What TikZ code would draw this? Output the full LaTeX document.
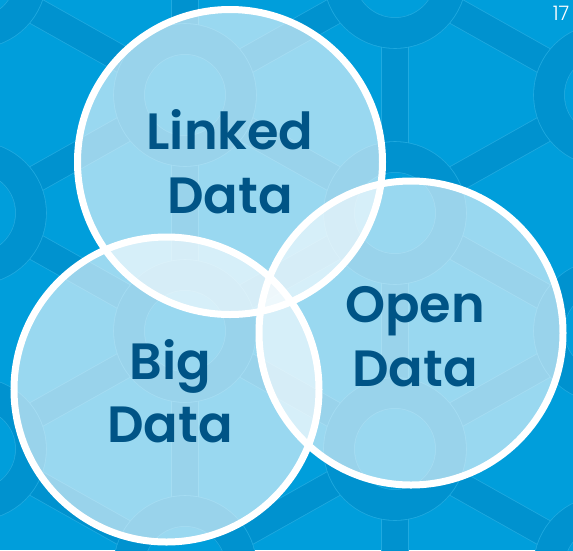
\documentclass[tikz,border=0pt]{standalone}
\usepackage{fontspec}
\usepackage{tikz}
\newfontfamily\vennfont{Poppins SemiBold}
\newfontfamily\pagefont{Poppins Light}
\definecolor{bgblue}{RGB}{0,158,219}
\definecolor{patblue}{RGB}{0,146,207}
\definecolor{lineblue}{RGB}{32,170,224}
\definecolor{textblue}{RGB}{0,84,134}

\begin{document}
\begin{tikzpicture}[x=1pt,y=-1pt,
    band/.style={draw=lineblue,line width=0.8pt,double=patblue,double distance=26pt},
    ring/.style={draw=lineblue,line width=0.8pt,double=patblue,double distance=30pt},
    vennfill/.style={fill=white,fill opacity=0.6},
    vennline/.style={draw=white,line width=7pt},
    vennlabel/.style={text=textblue,align=center,anchor=base,inner sep=0pt,
        font=\vennfont\fontsize{51}{63.5}\selectfont}]
            \useasboundingbox (0,0) rectangle (573,550);
            % background pattern
            \begin{scope}
            \clip (0,0) rectangle (573,550);
            \fill[bgblue] (0,0) rectangle (573,550);
            \foreach \m/\p in {-1/1,0/0,1/1,2/0}
              \foreach \k in {-1,...,3}{
                \pgfmathsetmacro{\px}{185+210*\m}
                \pgfmathsetmacro{\py}{95+118*(2*\k+\p)}
                \draw[band](\px,\py)--++(210,118);
                \draw[band](\px,\py)--++(210,-118);
                \draw[band](\px,\py)--++(0,236);
              }
            \foreach \m/\p in {-1/1,0/0,1/1,2/0}
              \foreach \k in {-1,...,3}{
                \pgfmathsetmacro{\px}{185+210*\m}
                \pgfmathsetmacro{\py}{95+118*(2*\k+\p)}
                \fill[bgblue](\px,\py)circle(40);
                \draw[ring](\px,\py)circle(56);
              }
            \end{scope}
            % the three sets
            \coordinate (lc) at (230,162);
            \coordinate (bc) at (166.5,389.5);
            \coordinate (oc) at (411,333);
            \fill[vennfill](lc)circle(152.5);
            \fill[vennfill](bc)circle(152.5);
            \fill[vennfill](oc)circle(152);
            \draw[vennline](lc)circle(152.5);
            \draw[vennline](bc)circle(152.5);
            \draw[vennline](oc)circle(152);
            \node[vennlabel] (linked) at (230,213) {Linked\\Data};
            \node[vennlabel] (big) at (170,442.5) {Big\\Data};
            \node[vennlabel] (open) at (415,386) {Open\\Data};
            \node[text=white,inner sep=0pt,font=\pagefont\fontsize{20}{20}\selectfont] (page) at (561,13.5) {17};
        \end{tikzpicture}
\end{document}
